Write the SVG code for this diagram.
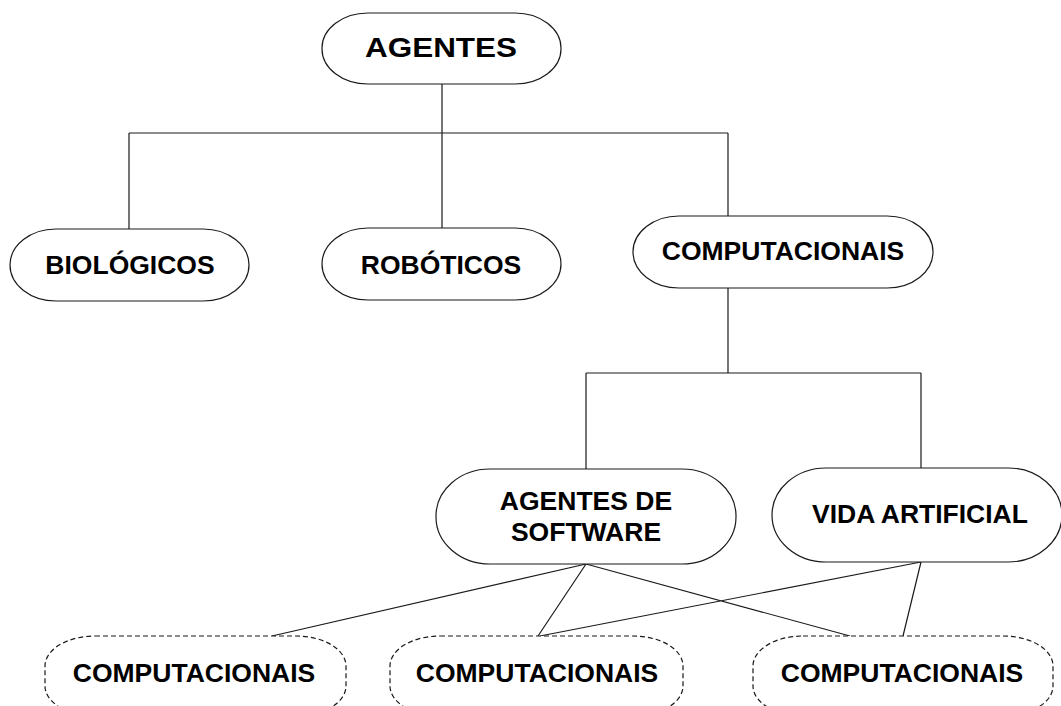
<svg xmlns="http://www.w3.org/2000/svg" width="1061" height="706" viewBox="0 0 1061 706">
<style>
.n{fill:#fff;stroke:#1a1a1a;stroke-width:1.2}
.d{fill:#fff;stroke:#1a1a1a;stroke-width:1.2;stroke-dasharray:5 3}
.t{font-family:"Liberation Sans",Arial,sans-serif;font-weight:bold;font-size:26.5px;fill:#000;text-anchor:middle}
.c{fill:none;stroke:#1a1a1a;stroke-width:1.2}
</style>
<rect width="1061" height="706" fill="#fff"/>
<g id="connectors" class="c">
<path d="M442 84V133M129 133H728M129 133V229M442 133V228M728 133V216"/>
<path d="M728 288V373M586 373H921M586 373V469M921 373V468"/>
<path d="M586 564L272 636M586 564L538 636M586 564L850 636M921 562L540 636M921 562L903 636"/>
</g>
<g id="agentes"><rect class="n" x="322" y="13" width="239" height="71" rx="46" ry="35"/><text class="t" x="441" y="57" style="font-size:28px" textLength="152" lengthAdjust="spacingAndGlyphs">AGENTES</text></g>
<g id="biologicos"><rect class="n" x="10" y="229" width="239" height="72" rx="46" ry="36"/><text class="t" x="130" y="274">BIOLÓGICOS</text></g>
<g id="roboticos"><rect class="n" x="322" y="228" width="239" height="72" rx="46" ry="36"/><text class="t" x="441" y="274">ROBÓTICOS</text></g>
<g id="computacionais"><rect class="n" x="633" y="216" width="300" height="72" rx="46" ry="36"/><text class="t" x="783" y="260">COMPUTACIONAIS</text></g>
<g id="agentes-software"><rect class="n" x="436" y="469" width="300" height="95" rx="54" ry="47"/><text class="t" x="586" y="510">AGENTES DE</text><text class="t" x="586" y="541">SOFTWARE</text></g>
<g id="vida-artificial"><rect class="n" x="772" y="468" width="290" height="94" rx="54" ry="47"/><text class="t" x="920" y="523">VIDA ARTIFICIAL</text></g>
<g id="comp1"><rect class="d" x="45" y="636" width="301" height="80" rx="50" ry="30"/><text class="t" x="194" y="682">COMPUTACIONAIS</text></g>
<g id="comp2"><rect class="d" x="390" y="636" width="293" height="80" rx="50" ry="30"/><text class="t" x="537" y="682">COMPUTACIONAIS</text></g>
<g id="comp3"><rect class="d" x="753" y="636" width="300" height="80" rx="50" ry="30"/><text class="t" x="902" y="682">COMPUTACIONAIS</text></g>
</svg>
